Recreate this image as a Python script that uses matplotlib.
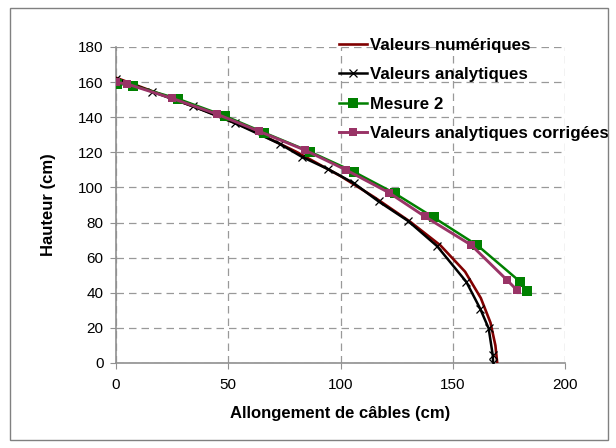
import matplotlib
matplotlib.use("Agg")
import matplotlib.pyplot as plt
from matplotlib.patches import Rectangle

plt.rcParams['font.family'] = ['Liberation Sans', 'DejaVu Sans']

# Valeurs numériques (dark red line)
num_x = [0, 20, 40, 60, 80, 100, 115, 131, 144.5, 155.5, 162.5, 166.8, 169, 169.8]
num_y = [162.5, 153, 143.5, 133, 120.5, 106.5, 94.5, 80.5, 67, 52, 37, 23, 10, 0]

# Valeurs analytiques (black, x markers)
ana_x = [0, 16, 34.3, 52.9, 73, 82.7, 94.5, 106, 117, 130, 143, 156, 162.2, 166, 167.8, 168]
ana_y = [162, 154.6, 146.2, 136.7, 124.8, 117.5, 110.4, 102.4, 92, 81, 66.6, 46.3, 31, 19.7, 4.6, 0]

# Mesure 2 (green squares)
mes_x = [0.3, 7.5, 27.5, 48.5, 66, 86.3, 105.8, 124.2, 141.5, 161, 180, 183.1]
mes_y = [159.2, 158, 150.5, 140.7, 131.2, 120.4, 109, 96.6, 82.9, 67, 46.3, 41.2]

# Valeurs analytiques corrigées (plum squares)
cor_x = [0, 5, 25.1, 44.9, 63.7, 84.1, 102.6, 121.5, 137.5, 158.2, 174.2, 178.4]
cor_y = [159.9, 158.9, 150.7, 141.8, 132, 121.3, 109.9, 97.1, 83.5, 67.2, 47.2, 41.8]

xticks = [0, 50, 100, 150, 200]
yticks = [0, 20, 40, 60, 80, 100, 120, 140, 160, 180]

W, H = 616, 448
fig = plt.figure(figsize=(W / 100, H / 100), dpi=100)
fig.patch.set_facecolor('white')
ax = fig.add_axes([116 / W, 1 - 363 / H, (565 - 116) / W, (363 - 47) / H])

ax.plot(num_x, num_y, color='#800000', lw=1.9, label='Valeurs numériques', zorder=3)
ax.plot(ana_x, ana_y, color='black', lw=1.8, marker='x', ms=6, mew=0.9,
        label='Valeurs analytiques', zorder=4)
ax.plot(mes_x, mes_y, color='#008000', lw=1.8, marker='s', ms=6.5, mew=0,
        label='Mesure 2', zorder=5)
ax.plot(cor_x, cor_y, color='#993366', lw=2.1, marker='s', ms=6, mew=0,
        label='Valeurs analytiques corrigées', zorder=6)

ax.set_xlim(0, 200)
ax.set_ylim(0, 180)
ax.set_xticks(xticks)
ax.set_yticks(yticks)
ax.grid(True, color='#999999', linestyle=(0, (6, 4)), lw=0.9)
ax.set_axisbelow(True)
for s in ['top', 'right']:
    ax.spines[s].set_visible(False)
for s in ['left', 'bottom']:
    ax.spines[s].set_color('#909090')
    ax.spines[s].set_linewidth(1.2)
ax.tick_params(axis='both', colors='#909090', labelcolor='black', labelsize=11,
               length=4, direction='out')
ax.tick_params(axis='y', pad=5)
ax.tick_params(axis='x', pad=7)

ax.set_xlabel('Allongement de câbles (cm)', fontsize=12, fontweight='bold', labelpad=10)
ax.set_ylabel('Hauteur (cm)', fontsize=12, fontweight='bold', labelpad=16)

leg = ax.legend(loc='upper left', bbox_to_anchor=(339 / W, 1 - 38 / H),
                bbox_transform=fig.transFigure, frameon=False, borderpad=0,
                borderaxespad=0, handlelength=1.65, handletextpad=0.2,
                labelspacing=0.85, prop={'size': 12.2, 'weight': 'bold'})

fig.patches.append(Rectangle((10 / W, 1 - 440 / H), (608 - 10) / W, (440 - 8) / H,
                             transform=fig.transFigure, fill=False,
                             edgecolor='#808080', lw=1.0))

fig.savefig('out.png', dpi=100)
